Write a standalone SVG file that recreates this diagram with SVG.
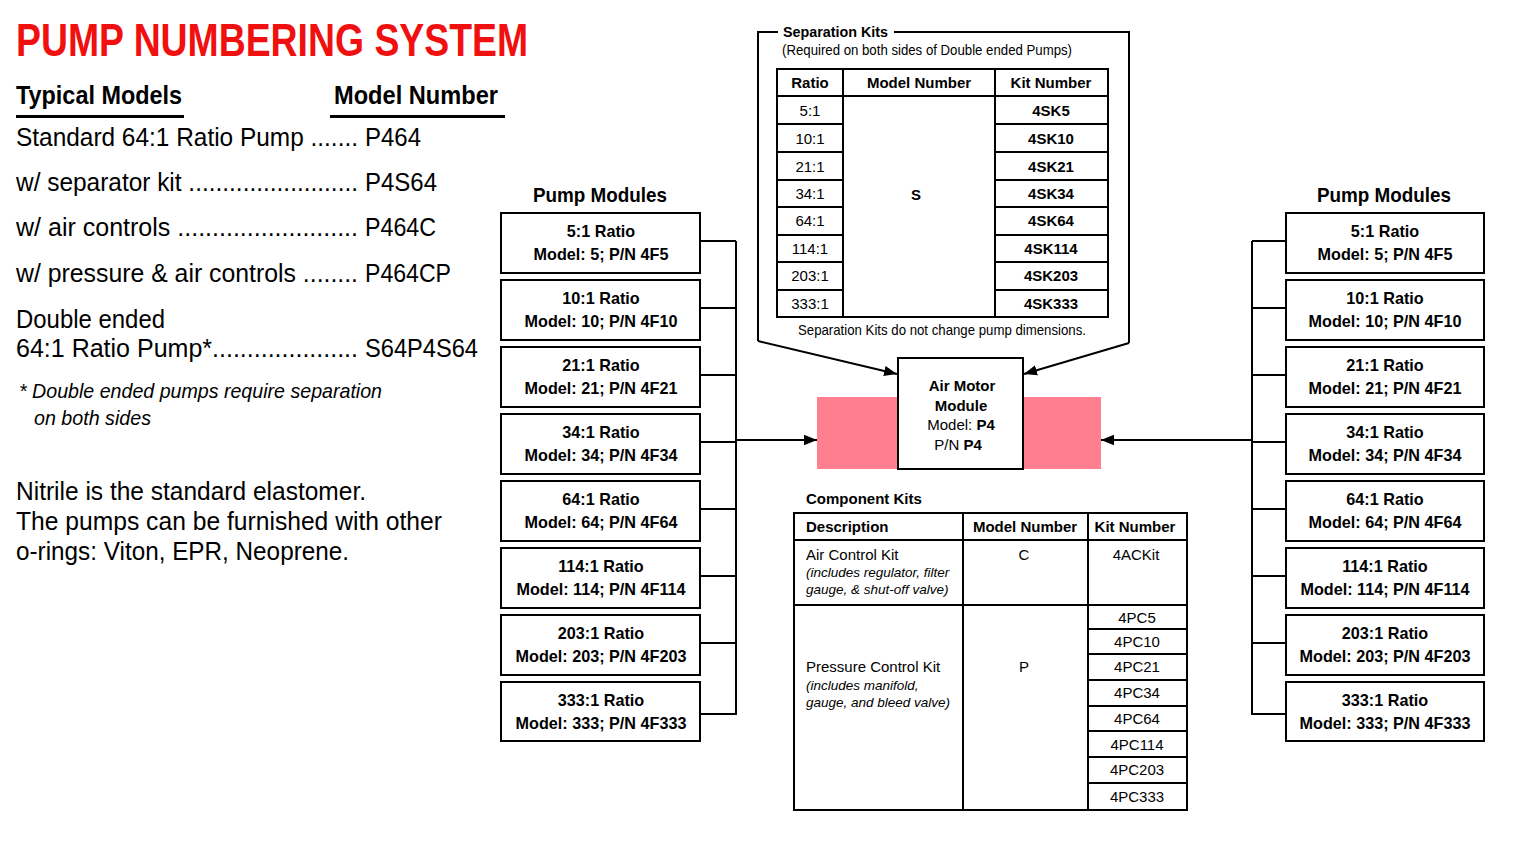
<svg xmlns="http://www.w3.org/2000/svg" width="1540" height="853" viewBox="0 0 1540 853">
<defs>
<style>
text{font-family:"Liberation Sans Narrow","Liberation Sans",Arial,sans-serif;fill:#000}
.b{font-weight:bold}
.it{font-style:italic}
.c{text-anchor:middle}
.title{font-size:46px;font-weight:bold;fill:#f01010}
.hd{font-size:26px;font-weight:bold}
.big{font-size:25px}
.fn{font-size:21px;font-style:italic}
.pm{font-size:21px;font-weight:bold}
.bx{font-size:16.2px;font-weight:bold}
.t{font-size:15px}
.tb{font-size:15px;font-weight:bold}
.ti{font-size:13.5px;font-style:italic}
.box{fill:#fff;stroke:#000;stroke-width:2}
.ln{fill:none;stroke:#000;stroke-width:2}
.tl{fill:none;stroke:#000;stroke-width:2}
</style>
<marker id="ah" viewBox="0 0 10 10" refX="10" refY="5" markerWidth="6.5" markerHeight="6.5" orient="auto" markerUnits="strokeWidth">
<path d="M0,1 L10,5 L0,9 z" fill="#000"/>
</marker>
</defs>
<rect width="1540" height="853" fill="#fff"/>

<g id="left-text">
<text class="title" x="16" y="56" textLength="512" lengthAdjust="spacingAndGlyphs">PUMP NUMBERING SYSTEM</text>
<text class="hd" x="16" y="104" textLength="166" lengthAdjust="spacingAndGlyphs">Typical Models</text>
<rect x="16" y="115" width="168" height="3" fill="#000"/>
<text class="hd" x="334" y="104" textLength="164" lengthAdjust="spacingAndGlyphs">Model Number</text>
<rect x="330" y="115" width="175" height="3" fill="#000"/>
<text class="big" x="16" y="146" textLength="342" lengthAdjust="spacingAndGlyphs">Standard 64:1 Ratio Pump .......</text>
<text class="big" x="365" y="146" textLength="56" lengthAdjust="spacingAndGlyphs">P464</text>
<text class="big" x="16" y="191" textLength="342" lengthAdjust="spacingAndGlyphs">w/ separator kit .........................</text>
<text class="big" x="365" y="191" textLength="72" lengthAdjust="spacingAndGlyphs">P4S64</text>
<text class="big" x="16" y="236" textLength="342" lengthAdjust="spacingAndGlyphs">w/ air controls  ..........................</text>
<text class="big" x="365" y="236" textLength="71" lengthAdjust="spacingAndGlyphs">P464C</text>
<text class="big" x="16" y="282" textLength="342" lengthAdjust="spacingAndGlyphs">w/ pressure &amp; air controls ........</text>
<text class="big" x="365" y="282" textLength="86" lengthAdjust="spacingAndGlyphs">P464CP</text>
<text class="big" x="16" y="328" textLength="149" lengthAdjust="spacingAndGlyphs">Double ended</text>
<text class="big" x="16" y="357" textLength="342" lengthAdjust="spacingAndGlyphs">64:1 Ratio Pump*.....................</text>
<text class="big" x="365" y="357" textLength="113" lengthAdjust="spacingAndGlyphs">S64P4S64</text>
<text class="fn" x="19" y="398" textLength="363" lengthAdjust="spacingAndGlyphs">* Double ended pumps require separation</text>
<text class="fn" x="34" y="425" textLength="117" lengthAdjust="spacingAndGlyphs">on both sides</text>
<text class="big" x="16" y="500" textLength="350" lengthAdjust="spacingAndGlyphs">Nitrile is the standard elastomer.</text>
<text class="big" x="16" y="530" textLength="426" lengthAdjust="spacingAndGlyphs">The pumps can be furnished with other</text>
<text class="big" x="16" y="560" textLength="333" lengthAdjust="spacingAndGlyphs">o-rings: Viton, EPR, Neoprene.</text>
</g>

<g id="connectors">
<path class="ln" d="M700,241 H736 M700,308 H736 M700,375 H736 M700,442 H736 M700,509 H736 M700,576 H736 M700,643 H736 M700,714 H736 M736,241 V715"/>
<path class="ln" d="M736,440 H817" marker-end="url(#ah)"/>
<path class="ln" d="M1286,241 H1252 M1286,308 H1252 M1286,375 H1252 M1286,442 H1252 M1286,509 H1252 M1286,576 H1252 M1286,643 H1252 M1286,714 H1252 M1252,241 V715"/>
<path class="ln" d="M1252,440 H1101" marker-end="url(#ah)"/>
<path class="ln" d="M758,341 L897,374" marker-end="url(#ah)"/>
<path class="ln" d="M1129,343 L1024,374" marker-end="url(#ah)"/>
</g>

<g id="left-pump-modules">
<text class="pm c" x="600" y="202" textLength="134" lengthAdjust="spacingAndGlyphs">Pump Modules</text>
<g id="lpm-5"><rect class="box" x="501" y="213" width="199" height="60"/><text class="bx c" x="601" y="237">5:1 Ratio</text><text class="bx c" x="601" y="260">Model: 5; P/N 4F5</text></g>
<g id="lpm-10"><rect class="box" x="501" y="280" width="199" height="60"/><text class="bx c" x="601" y="304">10:1 Ratio</text><text class="bx c" x="601" y="327">Model: 10; P/N 4F10</text></g>
<g id="lpm-21"><rect class="box" x="501" y="347" width="199" height="60"/><text class="bx c" x="601" y="371">21:1 Ratio</text><text class="bx c" x="601" y="394">Model: 21; P/N 4F21</text></g>
<g id="lpm-34"><rect class="box" x="501" y="414" width="199" height="60"/><text class="bx c" x="601" y="438">34:1 Ratio</text><text class="bx c" x="601" y="461">Model: 34; P/N 4F34</text></g>
<g id="lpm-64"><rect class="box" x="501" y="481" width="199" height="60"/><text class="bx c" x="601" y="505">64:1 Ratio</text><text class="bx c" x="601" y="528">Model: 64; P/N 4F64</text></g>
<g id="lpm-114"><rect class="box" x="501" y="548" width="199" height="60"/><text class="bx c" x="601" y="572">114:1 Ratio</text><text class="bx c" x="601" y="595">Model: 114; P/N 4F114</text></g>
<g id="lpm-203"><rect class="box" x="501" y="615" width="199" height="60"/><text class="bx c" x="601" y="639">203:1 Ratio</text><text class="bx c" x="601" y="662">Model: 203; P/N 4F203</text></g>
<g id="lpm-333"><rect class="box" x="501" y="682" width="199" height="59"/><text class="bx c" x="601" y="706">333:1 Ratio</text><text class="bx c" x="601" y="729">Model: 333; P/N 4F333</text></g>
</g>

<g id="right-pump-modules">
<text class="pm c" x="1384" y="202" textLength="134" lengthAdjust="spacingAndGlyphs">Pump Modules</text>
<g id="rpm-5"><rect class="box" x="1286" y="213" width="198" height="60"/><text class="bx c" x="1385" y="237">5:1 Ratio</text><text class="bx c" x="1385" y="260">Model: 5; P/N 4F5</text></g>
<g id="rpm-10"><rect class="box" x="1286" y="280" width="198" height="60"/><text class="bx c" x="1385" y="304">10:1 Ratio</text><text class="bx c" x="1385" y="327">Model: 10; P/N 4F10</text></g>
<g id="rpm-21"><rect class="box" x="1286" y="347" width="198" height="60"/><text class="bx c" x="1385" y="371">21:1 Ratio</text><text class="bx c" x="1385" y="394">Model: 21; P/N 4F21</text></g>
<g id="rpm-34"><rect class="box" x="1286" y="414" width="198" height="60"/><text class="bx c" x="1385" y="438">34:1 Ratio</text><text class="bx c" x="1385" y="461">Model: 34; P/N 4F34</text></g>
<g id="rpm-64"><rect class="box" x="1286" y="481" width="198" height="60"/><text class="bx c" x="1385" y="505">64:1 Ratio</text><text class="bx c" x="1385" y="528">Model: 64; P/N 4F64</text></g>
<g id="rpm-114"><rect class="box" x="1286" y="548" width="198" height="60"/><text class="bx c" x="1385" y="572">114:1 Ratio</text><text class="bx c" x="1385" y="595">Model: 114; P/N 4F114</text></g>
<g id="rpm-203"><rect class="box" x="1286" y="615" width="198" height="60"/><text class="bx c" x="1385" y="639">203:1 Ratio</text><text class="bx c" x="1385" y="662">Model: 203; P/N 4F203</text></g>
<g id="rpm-333"><rect class="box" x="1286" y="682" width="198" height="59"/><text class="bx c" x="1385" y="706">333:1 Ratio</text><text class="bx c" x="1385" y="729">Model: 333; P/N 4F333</text></g>
</g>

<g id="air-motor">
<rect x="817" y="397" width="284" height="72" fill="#ff7f91"/>
<rect class="box" x="898" y="358" width="125" height="111"/>
<text class="tb c" x="962" y="391">Air Motor</text>
<text class="tb c" x="961" y="411">Module</text>
<text class="t c" x="961" y="430">Model: <tspan class="b">P4</tspan></text>
<text class="t c" x="958" y="450">P/N <tspan class="b">P4</tspan></text>
</g>

<g id="separation-kits">
<path class="ln" d="M758,341 V32 H778 M894,32 H1129 V343"/>
<text class="tb" x="783" y="37" textLength="105" lengthAdjust="spacingAndGlyphs">Separation Kits</text>
<text class="t" x="782" y="55" textLength="290" lengthAdjust="spacingAndGlyphs">(Required on both sides of Double ended Pumps)</text>
<rect class="tl" x="777" y="69" width="331" height="248"/>
<path class="tl" d="M777,96 H1108 M843,69 V317 M995,69 V317 M777,124 H843 M777,152 H843 M777,180 H843 M777,207 H843 M777,235 H843 M777,262 H843 M777,290 H843 M995,124 H1108 M995,152 H1108 M995,180 H1108 M995,207 H1108 M995,235 H1108 M995,262 H1108 M995,290 H1108"/>
<text class="tb c" x="810" y="88">Ratio</text>
<text class="tb c" x="919" y="88">Model Number</text>
<text class="tb c" x="1051" y="88">Kit Number</text>
<text class="t c" x="810" y="116">5:1</text>
<text class="t c" x="810" y="144">10:1</text>
<text class="t c" x="810" y="172">21:1</text>
<text class="t c" x="810" y="199">34:1</text>
<text class="t c" x="810" y="226">64:1</text>
<text class="t c" x="810" y="254">114:1</text>
<text class="t c" x="810" y="281">203:1</text>
<text class="t c" x="810" y="309">333:1</text>
<text class="tb c" x="916" y="200">S</text>
<text class="tb c" x="1051" y="116">4SK5</text>
<text class="tb c" x="1051" y="144">4SK10</text>
<text class="tb c" x="1051" y="172">4SK21</text>
<text class="tb c" x="1051" y="199">4SK34</text>
<text class="tb c" x="1051" y="226">4SK64</text>
<text class="tb c" x="1051" y="254">4SK114</text>
<text class="tb c" x="1051" y="281">4SK203</text>
<text class="tb c" x="1051" y="309">4SK333</text>
<text class="t c" x="942" y="335" textLength="288" lengthAdjust="spacingAndGlyphs">Separation Kits do not change pump dimensions.</text>
</g>

<g id="component-kits">
<text class="tb" x="806" y="504">Component Kits</text>
<rect class="tl" x="794" y="513" width="393" height="297"/>
<path class="tl" d="M794,540 H1187 M794,605 H1187 M963,513 V810 M1088,513 V810 M1088,629 H1187 M1088,654 H1187 M1088,680 H1187 M1088,706 H1187 M1088,731 H1187 M1088,757 H1187 M1088,783 H1187"/>
<text class="tb" x="806" y="532">Description</text>
<text class="tb c" x="1025" y="532">Model Number</text>
<text class="tb c" x="1135" y="532">Kit Number</text>
<text class="t" x="806" y="560">Air Control Kit</text>
<text class="ti" x="806" y="577">(includes regulator, filter</text>
<text class="ti" x="806" y="594">gauge, &amp; shut-off valve)</text>
<text class="t c" x="1024" y="560">C</text>
<text class="t c" x="1136" y="560">4ACKit</text>
<text class="t" x="806" y="672">Pressure Control Kit</text>
<text class="ti" x="806" y="690">(includes manifold,</text>
<text class="ti" x="806" y="707">gauge, and bleed valve)</text>
<text class="t c" x="1024" y="672">P</text>
<text class="t c" x="1137" y="623">4PC5</text>
<text class="t c" x="1137" y="647">4PC10</text>
<text class="t c" x="1137" y="672">4PC21</text>
<text class="t c" x="1137" y="698">4PC34</text>
<text class="t c" x="1137" y="724">4PC64</text>
<text class="t c" x="1137" y="750">4PC114</text>
<text class="t c" x="1137" y="775">4PC203</text>
<text class="t c" x="1137" y="802">4PC333</text>
</g>
</svg>
